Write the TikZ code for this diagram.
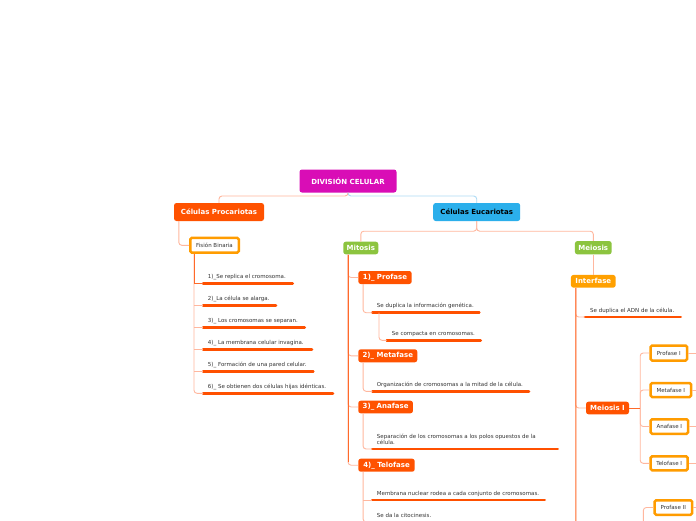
\documentclass[tikz,border=0pt]{standalone}
\usepackage{fontspec}
\setmainfont{DejaVu Sans}
\definecolor{mag}{HTML}{D90DB6}
\definecolor{redor}{HTML}{FF5200}
\definecolor{blu}{HTML}{2BAFEB}
\definecolor{grn}{HTML}{8CC43F}
\definecolor{amb}{HTML}{FFA000}
\definecolor{boxor}{HTML}{FF9C00}
\definecolor{ul}{HTML}{FF5000}
\definecolor{trk}{HTML}{FF6A2A}
\definecolor{lsal}{HTML}{FFB79E}
\definecolor{lblu}{HTML}{AEDBF5}
\definecolor{txt}{HTML}{333333}
\begin{document}
\begin{tikzpicture}[x=1pt,y=-1pt,
  box/.style={rounded corners=2.5pt, inner sep=0pt, text=white, font=\bfseries\fontsize{7}{8}\selectfont},
  wbox/.style={draw=boxor, line width=2.5pt, fill=white, rounded corners=1.5pt, inner sep=0pt, text=txt, font=\fontsize{5.5}{6}\selectfont},
  item/.style={inner sep=0pt, anchor=base west, text=txt, font=\fontsize{5.5}{6.1}\selectfont, align=left},
  uline/.style={draw=ul, line width=2.8pt, line cap=round},
  trunk/.style={draw=trk, line width=1pt, rounded corners=3pt},
  br/.style={draw=lsal, line width=0.9pt, rounded corners=3pt},
  sharp/.style={rounded corners=0pt}
]
\useasboundingbox (0,0) rectangle (696,520);
\clip (0,0) rectangle (696,520);
\fill[white] (0,0) rectangle (696,520);

% main nodes
\node[box, fill=mag, minimum width=97pt, minimum height=23pt] (root) at (348,181) {DIVISIÓN CELULAR};
\node[box, fill=redor, minimum width=90pt, minimum height=18pt] (proc) at (219,212) {Células Procariotas};
\node[box, fill=blu, text=black, minimum width=87pt, minimum height=18pt] (euc) at (476.7,212) {Células Eucariotas};
\node[wbox, minimum width=48.5pt, minimum height=14.8pt] (fis) at (214.5,245.3) {Fisión Binaria};
\node[box, fill=grn, minimum width=35pt, minimum height=12.6pt] (mit) at (360.8,248) {Mitosis};
\node[box, fill=grn, minimum width=36.7pt, minimum height=13.3pt] (mei) at (593.3,247.7) {Meiosis};
\node[box, fill=redor, minimum width=53.4pt, minimum height=13pt] (pro) at (385,277.5) {1)\_ Profase};
\node[box, fill=redor, minimum width=59pt, minimum height=13pt] (met) at (387.8,355.8) {2)\_ Metafase};
\node[box, fill=redor, minimum width=54.7pt, minimum height=12.6pt] (ana) at (385.6,407) {3)\_ Anafase};
\node[box, fill=redor, minimum width=56.4pt, minimum height=13pt] (tel) at (386.5,465.2) {4)\_ Telofase};
\node[box, fill=amb, minimum width=44.7pt, minimum height=12.7pt] (int) at (593.3,281.3) {Interfase};
\node[box, fill=redor, minimum width=43pt, minimum height=12.6pt] (mI) at (607.5,408) {Meiosis I};
\node[wbox, minimum width=36.5pt, minimum height=15pt] (pI) at (668.8,353) {Profase I};
\node[wbox, minimum width=40.5pt, minimum height=14pt] (meI) at (670.8,390) {Metafase I};
\node[wbox, minimum width=37.5pt, minimum height=14.5pt] (aI) at (669.3,426.5) {Anafase I};
\node[wbox, minimum width=37pt, minimum height=14pt] (tI) at (669.2,463.3) {Telofase I};
\node[wbox, minimum width=37.5pt, minimum height=14.5pt] (pII) at (673.3,507.5) {Profase II};

% underline start points
\coordinate (u1) at (203,283.3);
\coordinate (u2) at (203,305.3);
\coordinate (u3) at (203,327.3);
\coordinate (u4) at (203,349.3);
\coordinate (u5) at (203,371.3);
\coordinate (u6) at (203,393.3);
\coordinate (up1) at (372.3,312.7);
\coordinate (up2) at (386.7,340.3);
\coordinate (um) at (372.3,391.3);
\coordinate (ua) at (372.3,449);
\coordinate (ut1) at (372.3,500);
\coordinate (ut2) at (372.3,522);
\coordinate (ui) at (585,317);
\coordinate (edge) at (700,0);
\coordinate (iend) at (576,540);
\coordinate (p2s) at (643.3,540);

% leaf texts
\node[item] (t1) at ([xshift=4.7pt,yshift=5pt]u1) {1)\_Se replica el cromosoma.};
\node[item] (t2) at ([xshift=4.7pt,yshift=5pt]u2) {2)\_La célula se alarga.};
\node[item] (t3) at ([xshift=4.7pt,yshift=5pt]u3) {3)\_ Los cromosomas se separan.};
\node[item] (t4) at ([xshift=4.7pt,yshift=5pt]u4) {4)\_ La membrana celular invagina.};
\node[item] (t5) at ([xshift=4.7pt,yshift=5pt]u5) {5)\_ Formación de una pared celular.};
\node[item] (t6) at ([xshift=4.7pt,yshift=5pt]u6) {6)\_ Se obtienen dos células hijas idénticas.};
\node[item] (tp1) at ([xshift=4.4pt,yshift=5pt]up1) {Se duplica la información genética.};
\node[item] (tp2) at ([xshift=5pt,yshift=5pt]up2) {Se compacta en cromosomas.};
\node[item] (tm) at ([xshift=4.4pt,yshift=5pt]um) {Organización de cromosomas a la mitad de la célula.};
\node[item, anchor=north west] (ta) at ([xshift=4.4pt,yshift=15pt]ua) {Separación de los cromosomas a los polos opuestos de la\\célula.};
\node[item] (tt1) at ([xshift=4.4pt,yshift=5pt]ut1) {Membrana nuclear rodea a cada conjunto de cromosomas.};
\node[item] (tt2) at ([xshift=4.4pt,yshift=5pt]ut2) {Se da la citocinesis.};
\node[item] (ti) at ([xshift=5pt,yshift=5pt]ui) {Se duplica el ADN de la célula.};

% underlines
\draw[uline] (u1) -- ++(89.7,0);
\draw[uline] (u2) -- ++(73,0);
\draw[uline] (u3) -- ++(101.7,0);
\draw[uline] (u4) -- ++(109,0);
\draw[uline] (u5) -- ++(110.3,0);
\draw[uline] (u6) -- ++(130,0);
\draw[uline] (up1) -- ++(107,0);
\draw[uline] (up2) -- ++(94,0);
\draw[uline] (um) -- ++(156.7,0);
\draw[uline] (ua) -- ++(185.4,0);
\draw[uline] (ut1) -- ++(172.4,0);
\draw[uline] (ut2) -- ++(70,0);
\draw[uline] (ui) -- ++(95.7,0);

% connectors
\draw[br] (root.south) -- ++(0,3.3) -| (proc.north);
\draw[br, draw=lblu] (root.south) -- ++(0,3.3) -| (euc.north);
\draw[br] ([xshift=5pt]proc.south west) |- (fis.west);

\coordinate (ft) at ([xshift=-20.5pt]fis.south);
\draw[br] (ft) |- (u6);
\foreach \u in {u2,u3,u4,u5} \draw[br, sharp] (ft |- \u) -- (\u);
\draw[trunk, sharp] (ft) -- (ft |- u1) -- (u1);

\draw[br] (euc.south) -- ++(0,10) -| (mit.north);
\draw[br] (euc.south) -- ++(0,10) -| (mei.north);

\coordinate (mt) at ([xshift=5pt]mit.south west);
\draw[br] (mt) |- (pro.west);
\draw[br] (mt) |- (met.west);
\draw[br] (mt) |- (ana.west);
\draw[br] (mt) |- (tel.west);
\draw[trunk, sharp] (mt) -- ([yshift=3pt]mt |- tel.west);

\draw[br] ([xshift=5pt]pro.south west) |- (up1);
\draw[br] ([xshift=6.7pt]up1) |- (up2);
\draw[br] ([xshift=5pt]met.south west) |- (um);
\draw[br] ([xshift=5pt]ana.south west) |- (ua);
\draw[br] ([xshift=5pt]tel.south west) |- (ut2);
\draw[br, sharp] ([xshift=5pt]tel.south west |- ut1) -- (ut1);

\draw[br] (mei.south) -- (int.north);
\coordinate (it) at ([xshift=5pt]int.south west);
\draw[br] (it) |- (ui);
\draw[br] (it) |- (mI.west);
\draw[trunk, sharp] (it) -- (iend);

\coordinate (mj) at ([xshift=11pt]mI.east);
\draw[br] (mj) |- (pI.west);
\draw[br] (mj) |- (meI.west);
\draw[br] (mj) |- (aI.west);
\draw[br] (mj) |- (tI.west);
\draw[trunk, sharp] (mI.east) -- (mj);

\draw[br] (pI.east) -- (pI.east -| edge);
\draw[br] (meI.east) -- (meI.east -| edge);
\draw[br] (aI.east) -- (aI.east -| edge);
\draw[br] (tI.east) -- (tI.east -| edge);
\draw[br] (pII.east) -- (pII.east -| edge);
\draw[br] (pII.west) -| (p2s);
\end{tikzpicture}
\end{document}
